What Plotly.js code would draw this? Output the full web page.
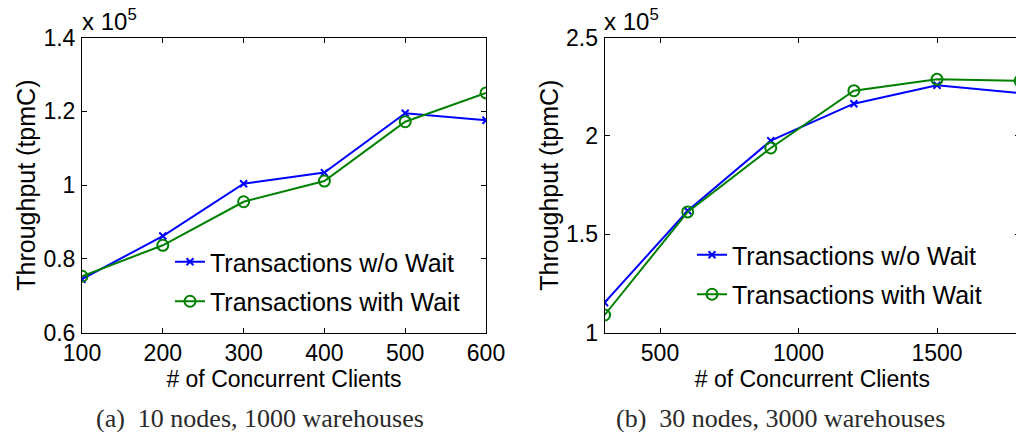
<!DOCTYPE html>
<html>
<head>
<meta charset="utf-8">
<script src="https://cdn.plot.ly/plotly-3.0.1.min.js"></script>
<style>
html,body{margin:0;padding:0;width:1016px;height:432px;overflow:hidden;background:#fff;}
#chart{width:1030px;height:432px;}
</style>
</head>
<body>
<div id="chart"></div>
<script>
// Throughput values in units of 10^5 tpmC
const clientsA = [100, 200, 300, 400, 500, 600];
const noWaitA  = [0.745, 0.862, 1.004, 1.034, 1.195, 1.176];
const withWaitA = [0.753, 0.837, 0.955, 1.011, 1.172, 1.250];

const clientsB = [300, 600, 900, 1200, 1500, 1800];
const noWaitB  = [1.153, 1.620, 1.976, 2.164, 2.258, 2.218];
const withWaitB = [1.090, 1.614, 1.939, 2.230, 2.288, 2.280];

const seriesNames = ['Transactions w/o Wait', 'Transactions with Wait'];
const yTicksA = [0.6, 0.8, 1, 1.2, 1.4];
const yTicksB = [1, 1.5, 2, 2.5];
const xTicksA = [100, 200, 300, 400, 500, 600];
const xTicksB = [500, 1000, 1500];
const captions = ['(a)&nbsp;&nbsp;10 nodes, 1000 warehouses', '(b)&nbsp;&nbsp;30 nodes, 3000 warehouses'];

const W = 1030, H = 432;
const BLUE = '#0000ff', GREEN = '#008000';
const FONT = 'Liberation Sans, Arial, Helvetica, sans-serif';
const SERIF = 'Liberation Serif, Times New Roman, serif';

function px(v){ return v / W; }
function py(v){ return (H - v) / H; }

const blueStyle = {
  mode: 'lines+markers',
  line: {color: BLUE, width: 2},
  marker: {symbol: 'x-thin', size: 7, color: BLUE, line: {color: BLUE, width: 2}}
};
const greenStyle = {
  mode: 'lines+markers',
  line: {color: GREEN, width: 2},
  marker: {symbol: 'circle-open', size: 11, color: GREEN, line: {color: GREEN, width: 2}}
};

const traces = [
  Object.assign({x: clientsA, y: noWaitA, name: seriesNames[0], xaxis: 'x', yaxis: 'y', legend: 'legend', legendgroup: 'a1'}, blueStyle),
  Object.assign({x: clientsA, y: withWaitA, name: seriesNames[1], xaxis: 'x', yaxis: 'y', legend: 'legend', legendgroup: 'a2'}, greenStyle),
  Object.assign({x: clientsB, y: noWaitB, name: seriesNames[0], xaxis: 'x2', yaxis: 'y2', legend: 'legend2', legendgroup: 'b1'}, blueStyle),
  Object.assign({x: clientsB, y: withWaitB, name: seriesNames[1], xaxis: 'x2', yaxis: 'y2', legend: 'legend2', legendgroup: 'b2'}, greenStyle)
];

const axBase = {
  showline: true, linecolor: '#000', linewidth: 1, mirror: 'ticks',
  ticks: 'inside', ticklen: 5, tickcolor: '#000', tickwidth: 1,
  showgrid: false, zeroline: false, automargin: false,
  tickfont: {family: FONT, size: 23, color: '#000'}
};
const yDomain = [py(332.7), py(37.6)];
const xTitleFont = {family: FONT, size: 23, color: '#000'};
const yTitleFont = {family: FONT, size: 25, color: '#000'};
const legendFont = {family: FONT, size: 25, color: '#000'};

const layout = {
  width: W, height: H,
  margin: {l: 0, r: 0, t: 0, b: 0},
  paper_bgcolor: '#fff', plot_bgcolor: '#fff',
  font: {family: FONT, color: '#000'},
  showlegend: true,
  xaxis: Object.assign({}, axBase, {
    domain: [px(82), px(486)], range: [100, 600], tickvals: xTicksA,
    ticklabelstandoff: 0,
    title: {text: '# of Concurrent Clients', font: xTitleFont, standoff: 0}
  }),
  yaxis: Object.assign({}, axBase, {
    domain: yDomain, range: [0.6, 1.4], tickvals: yTicksA, ticktext: yTicksA.map(String),
    ticklabelstandoff: 1,
    title: {text: 'Throughput (tpmC)', font: yTitleFont, standoff: 0}
  }),
  xaxis2: Object.assign({}, axBase, {
    domain: [px(604.6), px(1020.1)], range: [300, 1800], tickvals: xTicksB, anchor: 'y2',
    ticklabelstandoff: 0,
    title: {text: '# of Concurrent Clients', font: xTitleFont, standoff: 0}
  }),
  yaxis2: Object.assign({}, axBase, {
    domain: yDomain, range: [1, 2.5], tickvals: yTicksB, ticktext: yTicksB.map(String), anchor: 'x2',
    ticklabelstandoff: 1,
    title: {text: 'Throughput (tpmC)', font: yTitleFont, standoff: 0}
  }),
  legend: {
    x: px(170), y: py(239), xanchor: 'left', yanchor: 'top', xref: 'paper', yref: 'paper',
    bgcolor: 'rgba(0,0,0,0)', borderwidth: 0, font: legendFont,
    traceorder: 'grouped', tracegroupgap: 4
  },
  legend2: {
    x: px(692), y: py(232), xanchor: 'left', yanchor: 'top', xref: 'paper', yref: 'paper',
    bgcolor: 'rgba(0,0,0,0)', borderwidth: 0, font: legendFont,
    traceorder: 'grouped', tracegroupgap: 4
  },
  annotations: [
    {text: 'x 10<sup>5</sup>', xref: 'paper', yref: 'paper', x: px(80), y: py(37), xanchor: 'left', yanchor: 'bottom', showarrow: false, font: {family: FONT, size: 24, color: '#000'}},
    {text: 'x 10<sup>5</sup>', xref: 'paper', yref: 'paper', x: px(602), y: py(37), xanchor: 'left', yanchor: 'bottom', showarrow: false, font: {family: FONT, size: 24, color: '#000'}},
    {text: captions[0], xref: 'paper', yref: 'paper', x: px(260), y: py(418), xanchor: 'center', yanchor: 'middle', showarrow: false, font: {family: SERIF, size: 26, color: '#2a2a2a'}},
    {text: captions[1], xref: 'paper', yref: 'paper', x: px(780), y: py(418), xanchor: 'center', yanchor: 'middle', showarrow: false, font: {family: SERIF, size: 26, color: '#2a2a2a'}}
  ]
};

Plotly.newPlot('chart', traces, layout, {displayModeBar: false, staticPlot: true});
</script>
</body>
</html>
